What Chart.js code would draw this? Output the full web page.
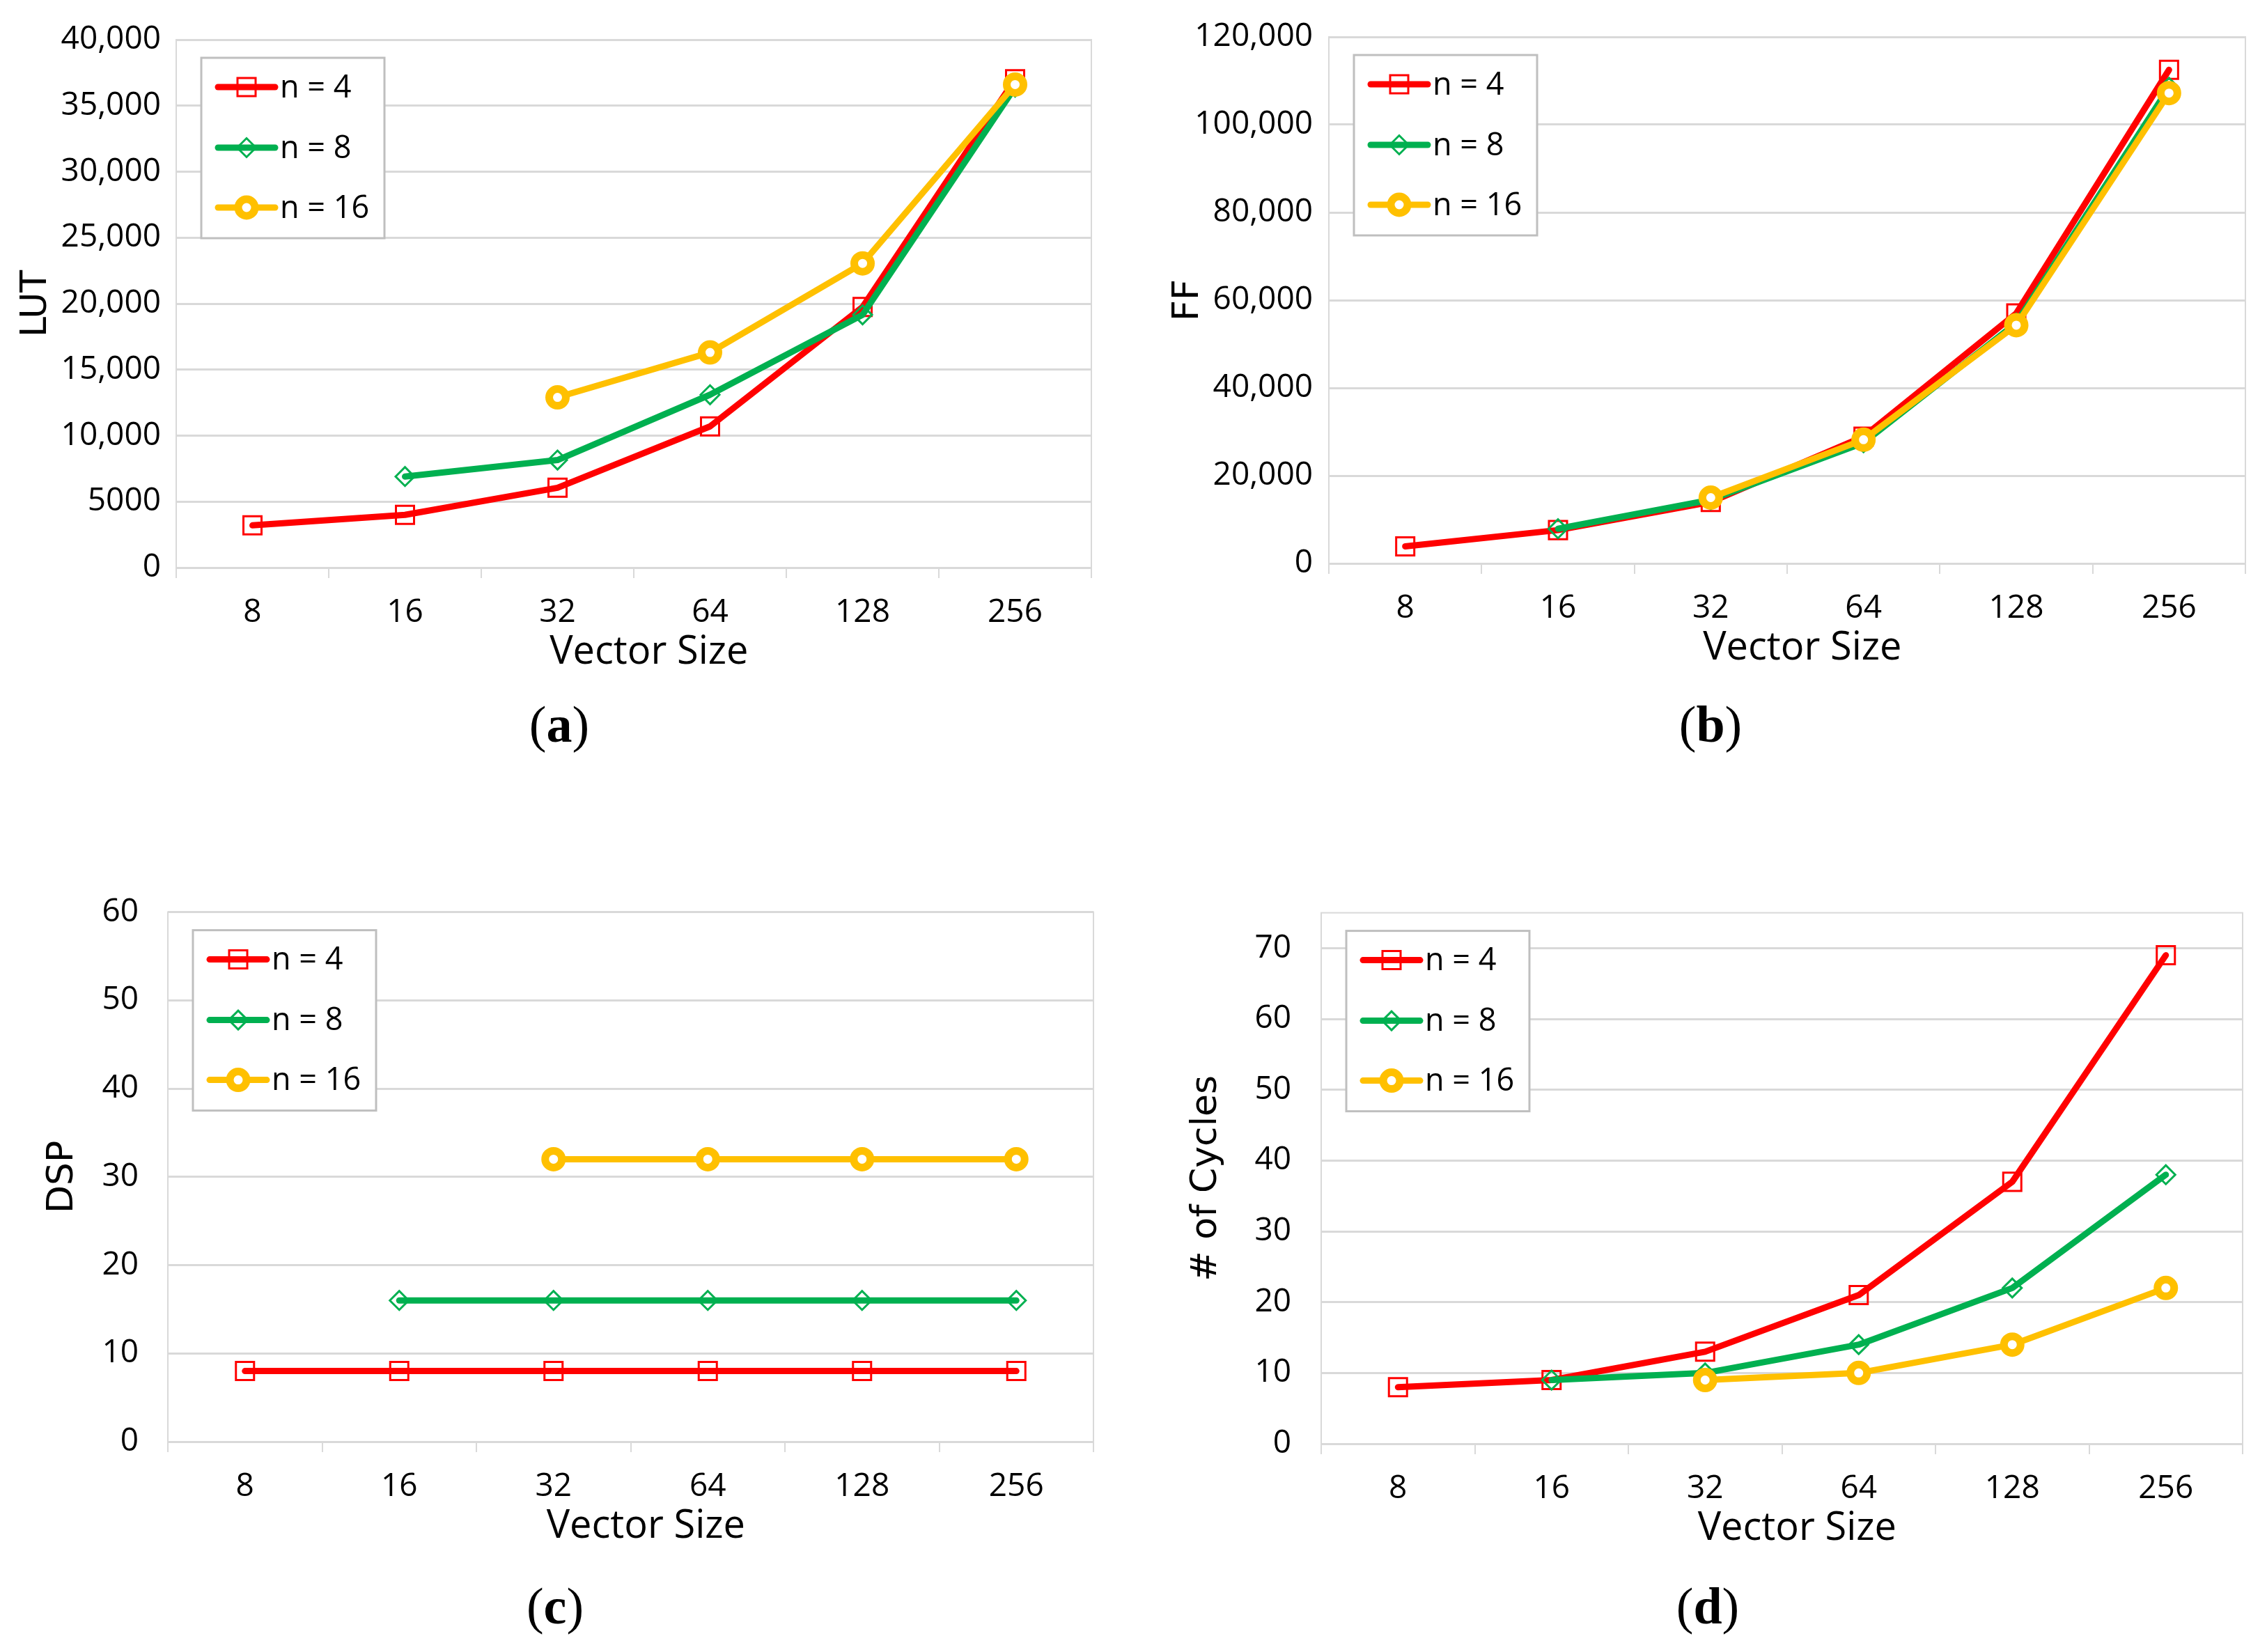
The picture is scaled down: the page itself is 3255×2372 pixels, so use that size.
<!DOCTYPE html>
<html>
<head>
<meta charset="utf-8">
<script src="https://cdn.jsdelivr.net/npm/chart.js@4.4.1/dist/chart.umd.min.js"></script>
<style>
  html, body { margin: 0; padding: 0; background: #fff; }
  #page { position: relative; width: 3255px; height: 2372px; background: #fff; overflow: hidden; }
  canvas { position: absolute; }
  .cap { position: absolute; transform: translate(-50%, -50%); font-family: 'Liberation Serif', serif; font-size: 74px; color: #000; white-space: nowrap; }
</style>
</head>
<body>
<div id="page">
  <canvas id="chartA"></canvas>
  <canvas id="chartB"></canvas>
  <canvas id="chartC"></canvas>
  <canvas id="chartD"></canvas>
  <div class="cap" style="left:803px; top:1040px;">(<b>a</b>)</div>
  <div class="cap" style="left:2456px; top:1040px;">(<b>b</b>)</div>
  <div class="cap" style="left:797px; top:2306px;">(<b>c</b>)</div>
  <div class="cap" style="left:2452px; top:2306px;">(<b>d</b>)</div>
</div>
<script>
// Categories and series names
const vectorSizes = ['8', '16', '32', '64', '128', '256'];
const seriesNames = ['n = 4', 'n = 8', 'n = 16'];

// (a) LUT
const lutN4  = [3200, 4000, 6050, 10700, 19750, 37000];
const lutN8  = [null, 6900, 8150, 13100, 19150, 36400];
const lutN16 = [null, null, 12900, 16300, 23050, 36600];

// (b) FF
const ffN4  = [3900, 7600, 14000, 28900, 57000, 112500];
const ffN8  = [null, 7900, 14500, 27500, 54800, 108500];
const ffN16 = [null, null, 15000, 28200, 54300, 107200];

// (c) DSP
const dspN4  = [8, 8, 8, 8, 8, 8];
const dspN8  = [null, 16, 16, 16, 16, 16];
const dspN16 = [null, null, 32, 32, 32, 32];

// (d) # of Cycles
const cycN4  = [8, 9, 13, 21, 37, 69];
const cycN8  = [null, 9, 10, 14, 22, 38];
const cycN16 = [null, null, 9, 10, 14, 22];

const seriesColors = ['#FF0000', '#00B050', '#FFC000'];
const gridColor = '#D9D9D9';
const tickFont = "'Open Sans', sans-serif";

// marker styles per series
const markers = [
  { style: 'rect',    radius: 18.4, border: 3,  fill: 'rgba(0,0,0,0)' },
  { style: 'rectRot', radius: 13.5, border: 3,  fill: 'rgba(0,0,0,0)' },
  { style: 'circle',  radius: 12,   border: 11, fill: '#FFFFFF' }
];

function fmtTick(v) {
  return v >= 10000 ? v.toLocaleString('en-US') : String(v);
}

function drawMarker(ctx, m, color, x, y) {
  const opts = { pointStyle: m.style, radius: m.radius, rotation: 0, borderWidth: m.border };
  ctx.save();
  ctx.strokeStyle = color;
  ctx.fillStyle = m.fill;
  ctx.lineWidth = m.border;
  if (Chart.helpers && Chart.helpers.drawPoint) {
    Chart.helpers.drawPoint(ctx, opts, x, y);
  }
  ctx.restore();
}

// plot area outline
const plotBorder = {
  id: 'plotBorder',
  beforeDatasetsDraw(chart) {
    const a = chart.chartArea, ctx = chart.ctx;
    ctx.save();
    ctx.strokeStyle = gridColor;
    ctx.lineWidth = 2;
    ctx.strokeRect(a.left, a.top, a.right - a.left, a.bottom - a.top);
    ctx.restore();
  }
};

// Excel style legend box in the top-left of the plot area
const boxLegend = {
  id: 'boxLegend',
  afterDatasetsDraw(chart) {
    const ctx = chart.ctx, a = chart.chartArea;
    const bx = a.left + 36, by = a.top + 26, bw = 263, bh = 259;
    ctx.save();
    ctx.fillStyle = '#FFFFFF';
    ctx.fillRect(bx, by, bw, bh);
    ctx.strokeStyle = '#BFBFBF';
    ctx.lineWidth = 3;
    ctx.strokeRect(bx, by, bw, bh);
    const rows = [42, 129, 215];
    chart.data.datasets.forEach((ds, i) => {
      const y = by + rows[i];
      ctx.strokeStyle = ds.borderColor;
      ctx.lineWidth = 9;
      ctx.lineCap = 'round';
      ctx.beginPath();
      ctx.moveTo(bx + 24, y);
      ctx.lineTo(bx + 106, y);
      ctx.stroke();
      drawMarker(ctx, markers[i], ds.borderColor, bx + 65, y);
      ctx.fillStyle = '#000';
      ctx.font = "45px " + tickFont;
      ctx.textBaseline = 'middle';
      ctx.textAlign = 'left';
      ctx.fillText(ds.label, bx + 113, y + 2);
    });
    ctx.restore();
  }
};

const panels = [
  { id: 'chartA', ox: 0,    oy: 0,    w: 1600, area: [253, 57, 1567, 815],     title: 'LUT',         series: [lutN4, lutN8, lutN16], max: 40000,  step: 5000,  titlePad: 21, tickPad: 22 },
  { id: 'chartB', ox: 1628, oy: 0,    w: 1627, area: [1908, 53, 3224, 809],    title: 'FF',          series: [ffN4, ffN8, ffN16],    max: 120000, step: 20000, titlePad: 47, tickPad: 23 },
  { id: 'chartC', ox: 0,    oy: 1240, w: 1600, area: [241, 1308, 1570, 2070],  title: 'DSP',         series: [dspN4, dspN8, dspN16], max: 60,     step: 10,    titlePad: 59, tickPad: 42 },
  { id: 'chartD', ox: 1628, oy: 1240, w: 1627, area: [1897, 1308, 3220, 2073], title: '# of Cycles', series: [cycN4, cycN8, cycN16], max: 75,     step: 10,    titlePad: 73, tickPad: 43 }
];

const xHeight = 156;

panels.forEach(p => {
  const yWidth = p.area[0] - p.ox;
  const padTop = p.area[1] - p.oy;
  const padRight = p.ox + p.w - p.area[2];
  const h = p.area[3] - p.oy + xHeight;
  const canvas = document.getElementById(p.id);
  canvas.width = p.w;
  canvas.height = h;
  canvas.style.left = p.ox + 'px';
  canvas.style.top = p.oy + 'px';
  canvas.style.width = p.w + 'px';
  canvas.style.height = h + 'px';

  const datasets = p.series.map((values, i) => ({
    label: seriesNames[i],
    data: values,
    borderColor: seriesColors[i],
    backgroundColor: seriesColors[i],
    borderWidth: 9,
    borderCapStyle: 'round',
    borderJoinStyle: 'round',
    pointStyle: markers[i].style,
    pointRadius: markers[i].radius,
    pointBorderWidth: markers[i].border,
    pointBorderColor: seriesColors[i],
    pointBackgroundColor: markers[i].fill,
    pointHoverRadius: markers[i].radius,
    tension: 0,
    fill: false,
    order: 3 - i
  }));

  new Chart(canvas.getContext('2d'), {
    type: 'line',
    data: { labels: vectorSizes, datasets: datasets },
    options: {
      responsive: false,
      animation: false,
      devicePixelRatio: 1,
      layout: { padding: { top: padTop, right: padRight, bottom: 0, left: 0 } },
      plugins: { legend: { display: false }, tooltip: { enabled: false } },
      scales: {
        x: {
          type: 'category',
          offset: true,
          grid: { offset: true, drawOnChartArea: false, drawTicks: true, tickLength: 15, color: gridColor, lineWidth: 2 },
          border: { display: false },
          ticks: { color: '#000', font: { family: tickFont, size: 46 }, padding: 22, maxRotation: 0 },
          // leading spaces nudge the centred title to the right, as in the original
          title: { display: true, text: '\u00a0\u00a0\u00a0Vector Size', color: '#000', font: { family: tickFont, size: 56 }, padding: { top: 0, bottom: 0 } },
          afterFit: scale => { scale.height = xHeight; }
        },
        y: {
          min: 0,
          max: p.max,
          grid: { color: gridColor, lineWidth: 3, drawTicks: false },
          border: { display: false },
          ticks: { stepSize: p.step, includeBounds: false, autoSkip: false, color: '#000', font: { family: tickFont, size: 46 }, padding: p.tickPad, callback: v => fmtTick(v) },
          title: { display: true, text: p.title, color: '#000', font: { family: "'DejaVu Sans', sans-serif", size: 52 }, padding: { top: p.titlePad, bottom: 0 } },
          afterFit: scale => { scale.width = yWidth; }
        }
      }
    },
    plugins: [plotBorder, boxLegend]
  });
});
</script>
</body>
</html>
